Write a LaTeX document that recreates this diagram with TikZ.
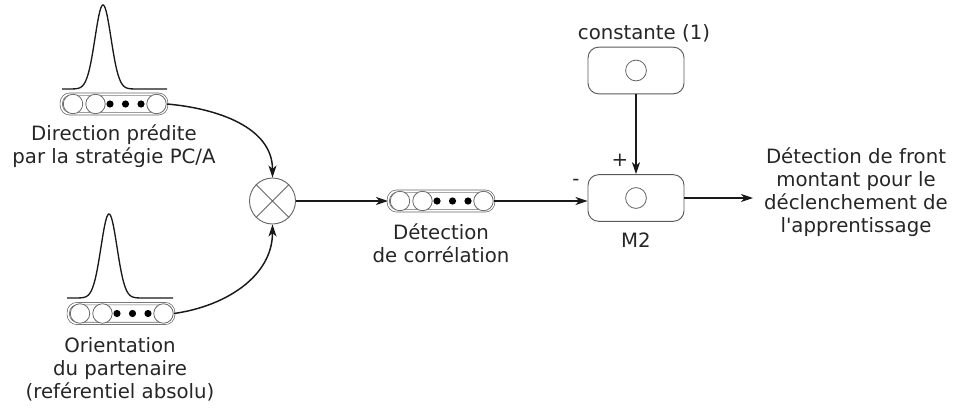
\documentclass[tikz,border=0pt]{standalone}
\usepackage{fontspec}
\setmainfont{DejaVu Sans}[Ligatures=TeXOff]
\usetikzlibrary{arrows.meta}
\tikzset{
  lbl/.style={font=\fontsize{14.8}{17.3}\selectfont, text=black!85, align=center, inner sep=0pt},
  arr/.style={draw=black!90, line width=1.1pt, -{Stealth[length=9pt,width=6pt,inset=2.5pt]}},
  arraybox/.style={draw=black!60, double=white, double distance=1.3pt, line width=0.5pt,
    rounded corners=6.5pt, minimum width=79pt, minimum height=14.8pt, inner sep=0pt},
  cell/.style={draw=black!60, line width=0.6pt, fill=white},
  dotcell/.style={fill=black},
  modbox/.style={draw=black!65, line width=0.7pt, rounded corners=8pt,
    minimum width=72pt, minimum height=35pt, inner sep=0pt},
  mulcircle/.style={circle, draw=black!60, line width=0.7pt, minimum size=34.5pt, inner sep=0pt},
  gauss/.style={draw=black!90, line width=1pt},
}
\newcommand{\neuronarr}[3]{%
  \node[arraybox] (#1) at (#2,#3) {};
  \begin{scope}[shift={(#2,#3)}]
    \foreach \dx in {-41,-18.5,42.5} \draw[cell] (\dx,0) circle[radius=7.3pt];
    \foreach \dx in {-4,11.5,27} \fill[dotcell] (\dx,0) circle[radius=2.7pt];
  \end{scope}}
\newcommand{\gaussplot}[4]{% peak x, baseline y, left x, right x
  \draw[gauss] plot[domain=#3:#4, samples=120]
    ({\x}, {#2-84*exp(-((\x-#1)^2)/(2*64))});}
\begin{document}
\begin{tikzpicture}[x=0.75pt,y=-0.75pt]
  \useasboundingbox (0,0) rectangle (953,407);

  % input arrays
  \gaussplot{103}{89}{62}{167}
  \neuronarr{top}{114}{104}
  \node[lbl] (lbltop) at (114,146) {Direction prédite\\par la stratégie PC/A};

  \gaussplot{109}{298}{67}{173}
  \neuronarr{bot}{121}{313.5}
  \node[lbl] (lblbot) at (120,369) {Orientation\\du partenaire\\(reférentiel absolu)};

  % multiplier
  \node[mulcircle] (mul) at (272.5,201) {};
  \draw[black!60, line width=0.7pt] (mul.45) -- (mul.225) (mul.135) -- (mul.-45);

  % correlation array
  \neuronarr{mid}{441}{201}
  \node[lbl] (lblmid) at (441,243) {Détection\\de corrélation};

  % constant and M2
  \node[modbox] (cst) at (636,70.5) {};
  \draw[cell] (cst.center) circle[radius=7.8pt];
  \node[lbl] (lblcst) at (644,33) {constante (1)};

  \node[modbox] (m2) at (636,198) {};
  \draw[cell] (m2.center) circle[radius=7.8pt];
  \node[lbl] (lblm2) at (636,240) {M2};
  \node[lbl] (plus) at (620,160) {+};
  \node[lbl] (minus) at (576,182) {-};

  \node[lbl] (out) at (856,192) {Détection de front\\montant pour le\\déclenchement de\\l'apprentissage};
  \coordinate (outend) at (753,197);

  % connectors
  \draw[arr] (top.east) to[out=-5,in=90] (mul.north);
  \draw[arr] (bot.east) to[out=8,in=-90] (mul.south);
  \draw[arr] (mul.east) -- (mid.west);
  \draw[arr] (mid.east) -- (mid.east -| m2.west);
  \draw[arr] (cst.south) -- (m2.north);
  \draw[arr] (m2.east) -- (m2.east -| outend);
\end{tikzpicture}
\end{document}
